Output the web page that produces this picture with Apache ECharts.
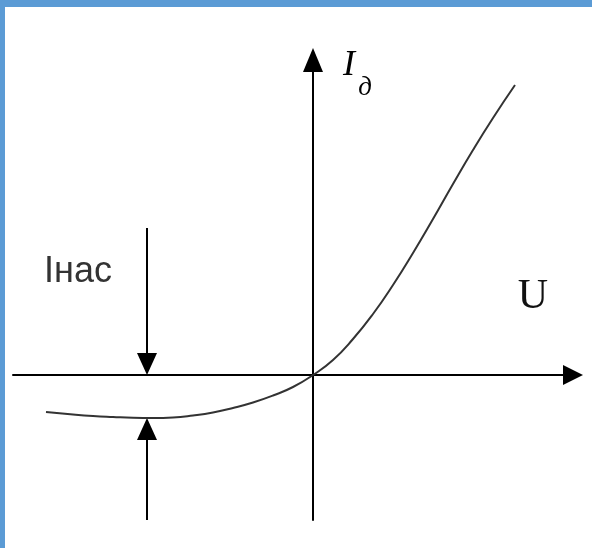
<!DOCTYPE html>
<html>
<head>
<meta charset="utf-8">
<script src="https://cdn.jsdelivr.net/npm/echarts@6/dist/echarts.min.js"></script>
<style>
  html, body { margin: 0; padding: 0; background: #fff; }
  #chart { width: 592px; height: 548px; }
</style>
</head>
<body>
<div id="chart"></div>
<script>
// diode I-V curve, arbitrary units (no scale on the axes)
const curveU = [-26.7, -24, -22, -20, -18, -16, -14, -12, -10, -8, -6, -4, -2, 0, 2, 4, 6, 8, 10, 12, 14, 16, 18, 20.2]
const curveI = [-3.7, -3.95, -4.1, -4.2, -4.28, -4.3, -4.25, -4.05, -3.75, -3.3, -2.75, -2.05, -1.2, 0, 1.5, 3.6, 6.1, 9.0, 12.2, 15.6, 19.1, 22.5, 25.7, 29.0]

// saturation current marker arrows: [u, from, to]
const satArrows = [
  [-16.6, 14.7, 0],
  [-16.6, -14.5, -4.3]
]

const uRange = [-30, 26]
const iRange = [-14.5, 31.5]

const curve = curveU.map((u, i) => [u, curveI[i]])

let chart = echarts.init(document.getElementById("chart"))

let axisCommon = {
  type: "value",
  axisTick: { show: false },
  axisLabel: { show: false },
  splitLine: { show: false }
}

let option = {
  backgroundColor: "#fff",
  animation: false,
  grid: { left: 13, right: 19, top: 60, bottom: 28 },
  xAxis: Object.assign({}, axisCommon, {
    min: uRange[0],
    max: uRange[1],
    axisLine: {
      onZero: true,
      symbol: ["none", "triangle"],
      symbolSize: [20, 20],
      lineStyle: { color: "#000", width: 2 }
    }
  }),
  yAxis: Object.assign({}, axisCommon, {
    min: iRange[0],
    max: iRange[1],
    axisLine: {
      onZero: true,
      symbol: ["none", "triangle"],
      symbolSize: [20, 24],
      lineStyle: { color: "#000", width: 2 }
    }
  }),
  graphic: [
    // slide frame
    { type: "rect", shape: { x: 0, y: 0, width: 592, height: 7 }, style: { fill: "#5b9bd5" } },
    { type: "rect", shape: { x: 0, y: 0, width: 5, height: 548 }, style: { fill: "#5b9bd5" } },
    {
      type: "text", x: 78, y: 272,
      style: { text: "Iнас", font: "36px 'Liberation Sans'", fill: "#333", align: "center", verticalAlign: "middle" }
    },
    {
      type: "text", x: 533, y: 297,
      style: { text: "U", font: "42px 'Liberation Serif'", fill: "#111", align: "center", verticalAlign: "middle" }
    },
    {
      type: "text", x: 349, y: 66,
      style: { text: "I", font: "italic 36px 'Liberation Serif'", fill: "#000", align: "center", verticalAlign: "middle" }
    },
    {
      type: "text", x: 365, y: 88,
      style: { text: "д", font: "italic 27px 'Liberation Serif'", fill: "#000", align: "center", verticalAlign: "middle" }
    }
  ],
  series: [
    {
      type: "line",
      data: curve,
      smooth: 0.5,
      showSymbol: false,
      lineStyle: { color: "#333", width: 2 }
    },
    {
      type: "custom",
      data: satArrows,
      silent: true,
      renderItem: function (params, api) {
        let a = api.coord([api.value(0), api.value(1)])
        let b = api.coord([api.value(0), api.value(2)])
        let dir = b[1] > a[1] ? 1 : -1
        let h = 22
        let w = 10
        let base = b[1] - dir * h
        return {
          type: "group",
          children: [
            { type: "line", shape: { x1: a[0], y1: a[1], x2: b[0], y2: base }, style: { stroke: "#000", lineWidth: 2 } },
            { type: "polygon", shape: { points: [[b[0], b[1]], [b[0] - w, base], [b[0] + w, base]] }, style: { fill: "#000" } }
          ]
        }
      }
    }
  ]
}

chart.setOption(option)
window.addEventListener("resize", () => chart.resize())
</script>
</body>
</html>
